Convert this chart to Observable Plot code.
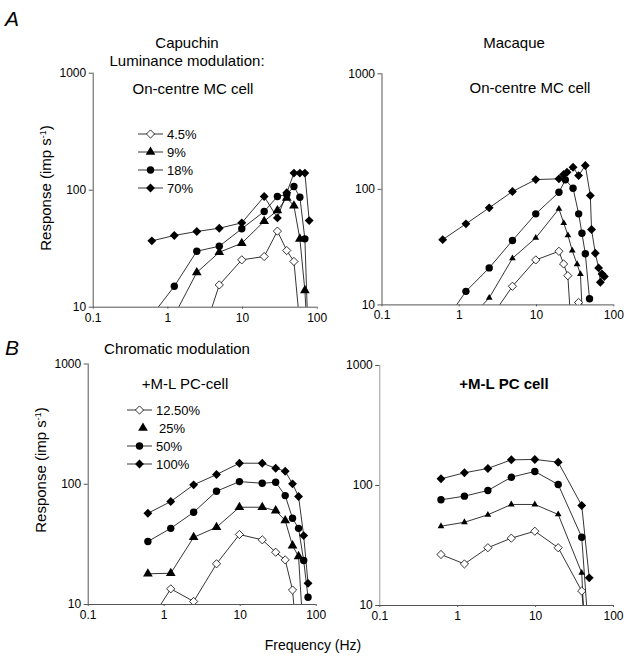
<!DOCTYPE html>
<html><head><meta charset="utf-8">
<script src="https://cdn.jsdelivr.net/npm/d3@7"></script>
<script src="https://cdn.jsdelivr.net/npm/@observablehq/plot@0.6"></script>
<style>
body{margin:0;background:#fff;}
#fig{position:relative;width:626px;height:660px;font-family:"Liberation Sans",Arial,sans-serif;color:#000;overflow:hidden;}
.t{position:absolute;white-space:nowrap;line-height:1;}
.c{transform:translate(-50%,-50%);}
.panel{position:absolute;left:0;top:0;}
.leg{position:absolute;display:flex;align-items:center;font-size:13px;line-height:1;}
</style></head><body><div id="fig"></div><script>
// ---------- tick labels ----------
const xTicks = [0.1, 1, 10, 100];
const yTicks = [10, 100, 1000];

// ---------- A: Capuchin, luminance modulation (on-centre MC cell) ----------
const capLum45F = [2.44, 4.88, 9.77, 19.5, 29.3, 39.1, 48.8, 58.6];
const capLum45R = [4, 15.5, 25.4, 27.1, 44.7, 30.5, 24.6, 7];
const capLum9F  = [1.22, 2.44, 4.88, 9.77, 19.5, 29.3, 39.1, 48.8, 58.6, 68.4, 78.1];
const capLum9R  = [8.5, 19.8, 29.5, 35.2, 54.3, 67, 86, 73.6, 38.4, 13.9, 3];
const capLum18F = [0.61, 1.22, 2.44, 4.88, 9.77, 19.5, 29.3, 39.1, 48.8, 58.6, 68.4, 78.1];
const capLum18R = [8.5, 15.1, 30.1, 33.2, 46.8, 65.8, 88.3, 92, 107.6, 87, 38.4, 3];
const capLum70F = [0.61, 1.22, 2.44, 4.88, 9.77, 19.5, 29.3, 39.1, 48.8, 58.6, 68.4, 78.1];
const capLum70R = [36.9, 41, 44.4, 47.3, 52.6, 88.3, 58, 95, 140, 140, 140, 55];

// ---------- A: Macaque, luminance modulation (on-centre MC cell) ----------
const macLum45F = [2.44, 4.88, 9.77, 19.5, 22.4, 25.4, 29.3, 35, 40];
const macLum45R = [7.4, 14.5, 24.5, 29.1, 22.6, 17.9, 4, 10.5, 4];
const macLum9F  = [1.22, 2.44, 4.88, 9.77, 19.5, 22.5, 25.5, 29, 33.5, 37, 42];
const macLum9R  = [7, 11.5, 25.3, 38, 67.8, 51, 40, 29.5, 22.5, 18.5, 3];
const macLum18F = [0.61, 1.22, 2.44, 4.88, 9.77, 19.5, 23.6, 29.7, 35.1, 38.7, 42.8, 48.5];
const macLum18R = [6.7, 13.1, 20.9, 36.1, 61.4, 94.4, 120.8, 102.3, 61.4, 41.7, 27.7, 11.3];
const macLum70F = [0.61, 1.22, 2.44, 4.88, 9.77, 19.5, 22.4, 24.8, 29.7, 35, 42.8, 49.7, 51.5, 57.6, 63.6, 67, 70.4, 75.4];
const macLum70R = [36.7, 50.3, 69.2, 95.8, 121.5, 123.3, 134.3, 140.6, 155.3, 131.6, 160.7, 88.3, 44.9, 28, 20.9, 15.7, 18.5, 17.6];

// ---------- B: Capuchin, chromatic modulation (+M-L PC cell) ----------
const capChr125F = [0.61, 1.22, 2.44, 4.88, 9.77, 19.5, 29.3, 39.1, 48.8, 58.6];
const capChr125R = [6.8, 13.5, 10.6, 21.8, 38.2, 34.5, 27.2, 23.5, 13.2, 3.5];
const capChr25F  = [0.61, 1.22, 2.44, 4.88, 9.77, 19.5, 29.3, 39.1, 48.8, 58.6, 68.4];
const capChr25R  = [18, 18.2, 36.2, 43.9, 64.4, 64.4, 60.4, 49.9, 30.9, 25.1, 5];
const capChr50F  = [0.61, 1.22, 2.44, 4.88, 9.77, 19.5, 29.3, 39.1, 48.8, 58.6, 68.4, 78.1];
const capChr50R  = [33.4, 43, 58.5, 87.5, 105.2, 101.9, 103.9, 80.5, 52.1, 43, 23.2, 11.5];
const capChr100F = [0.61, 1.22, 2.44, 4.88, 9.77, 19.5, 29.3, 39.1, 48.8, 58.6, 68.4, 78.1];
const capChr100R = [57.4, 71.8, 98.9, 120.4, 149.6, 149.6, 135.9, 128.3, 100.8, 79, 37.4, 15];

// ---------- B: Macaque, chromatic modulation (+M-L PC cell) ----------
const macChrF     = [0.61, 1.22, 2.44, 4.88, 9.77, 19.5, 39.1, 48.8];
const macChr125R  = [26.6, 22.2, 30.3, 36.4, 41.6, 30.3, 13.2, 3];
const macChr25R   = [45.8, 49.4, 57, 69.5, 69.5, 57.4, 18.7, 1];
const macChr50R   = [76, 81.5, 90.9, 117.3, 130.9, 101.9, 37.1, 5];
const macChr100R  = [113.7, 127.6, 138.7, 163.7, 164.8, 156.4, 68.1, 17];

const lumLabels = ["4.5%", "9%", "18%", "70%"];
const chrLabels = ["12.50%", "25%", "50%", "100%"];

// ---------- drawing ----------
const FONT = '"Liberation Sans", Arial, sans-serif';
const W = 626, H = 660;
const fig = document.getElementById("fig");

const STY = {
  open:  {symbol: "diamond2", fill: "white", stroke: "black", r: 3.7},
  tri:   {symbol: "triangle", fill: "black", stroke: "none", r: 3.6},
  triS:  {symbol: "triangle", fill: "black", stroke: "none", r: 2.5},
  dot:   {symbol: "circle",   fill: "black", stroke: "none", r: 3.7},
  dia:   {symbol: "diamond2", fill: "black", stroke: "none", r: 4.0}
};

function rows(F, R) { return F.map((f, i) => ({f, r: R[i]})); }

function panel(box, series, axisColor) {
  const marks = [
    Plot.ruleY([yTicks[0]], {stroke: "#555", strokeWidth: 1}),
    Plot.ruleX([xTicks[0]], {stroke: axisColor || "#555", strokeWidth: 1}),
    Plot.axisY({ticks: yTicks, tickFormat: d => String(d), tickSize: 4, tickPadding: 3, label: null, stroke: "#555", fill: "#000"}),
    Plot.axisX({ticks: xTicks, tickFormat: d => String(d), tickSize: 2, tickPadding: 4, label: null, stroke: "#555", fill: "#000"})
  ];
  for (const s of series) {
    const d = rows(s.F, s.R);
    marks.push(Plot.line(d, {x: "f", y: "r", stroke: "black", strokeWidth: 0.8, clip: true}));
  }
  for (const s of series) {
    const d = rows(s.F, s.R);
    const st = STY[s.st];
    marks.push(Plot.dot(d, {x: "f", y: "r", symbol: st.symbol, fill: st.fill, stroke: st.stroke, strokeWidth: 0.8, r: st.r, clip: true}));
  }
  const svg = Plot.plot({
    width: W, height: H,
    marginLeft: box[0], marginRight: W - box[1], marginTop: box[2], marginBottom: H - box[3],
    x: {type: "log", domain: [xTicks[0], xTicks[xTicks.length - 1]]},
    y: {type: "log", domain: [yTicks[0], yTicks[yTicks.length - 1]]},
    style: {fontFamily: FONT, fontSize: "12px", background: "none", overflow: "visible", maxWidth: "none"},
    marks
  });
  svg.classList.add("panel");
  fig.appendChild(svg);
}

panel([92.7, 316.7, 72.7, 306.7], [
  {F: capLum45F, R: capLum45R, st: "open"},
  {F: capLum9F,  R: capLum9R,  st: "tri"},
  {F: capLum18F, R: capLum18R, st: "dot"},
  {F: capLum70F, R: capLum70R, st: "dia"}
]);
panel([381.5, 613.3, 73.3, 304.4], [
  {F: macLum45F, R: macLum45R, st: "open"},
  {F: macLum9F,  R: macLum9R,  st: "triS"},
  {F: macLum18F, R: macLum18R, st: "dot"},
  {F: macLum70F, R: macLum70R, st: "dia"}
]);
panel([87.7, 315.7, 363.5, 604], [
  {F: capChr125F, R: capChr125R, st: "open"},
  {F: capChr25F,  R: capChr25R,  st: "tri"},
  {F: capChr50F,  R: capChr50R,  st: "dot"},
  {F: capChr100F, R: capChr100R, st: "dia"}
]);
panel([379.3, 613, 365, 605], [
  {F: macChrF, R: macChr125R, st: "open"},
  {F: macChrF, R: macChr25R,  st: "triS"},
  {F: macChrF, R: macChr50R,  st: "dot"},
  {F: macChrF, R: macChr100R, st: "dia"}
], "#999");

// ---------- text ----------
function text(str, x, y, opts = {}) {
  const el = document.createElement("div");
  el.className = "t" + (opts.left ? "" : " c");
  el.innerHTML = str;
  el.style.left = x + "px"; el.style.top = y + "px";
  el.style.fontSize = (opts.size || 15) + "px";
  if (opts.italic) el.style.fontStyle = "italic";
  if (opts.bold) el.style.fontWeight = opts.bold;
  if (opts.rotate) el.style.transform = "translate(-50%,-50%) rotate(-90deg)";
  fig.appendChild(el);
}
text("A", 5, 8, {left: true, italic: true, size: 21});
text("B", 5, 337, {left: true, italic: true, size: 21});
text("Capuchin", 187, 42);
text("Luminance modulation:", 187, 60);
text("On-centre MC cell", 193, 88);
text("Macaque", 514, 42);
text("On-centre MC cell", 530, 87);
text("Chromatic modulation", 177, 348);
text("+M-L PC-cell", 185, 383);
text("+M-L PC cell", 504, 383, {bold: 600});
text("Response (imp s<sup style='font-size:9px;vertical-align:5px'>-1</sup>)", 45, 188, {rotate: true});
text("Response (imp s<sup style='font-size:9px;vertical-align:5px'>-1</sup>)", 40, 470, {rotate: true});
text("Frequency (Hz)", 313, 645, {size: 14});

// ---------- legends ----------
function legendItem(label, st, x, y, withLine) {
  const s = STY[st];
  const el = document.createElement("div");
  el.className = "leg";
  el.style.left = x + "px"; el.style.top = (y - 7) + "px";
  const sv = d3.create("svg").attr("width", 28).attr("height", 14).style("overflow", "visible");
  if (withLine) sv.append("line").attr("x1", 1).attr("x2", 26).attr("y1", 7).attr("y2", 7).attr("stroke", "black").attr("stroke-width", 0.8);
  const sym = s.symbol === "circle" ? d3.symbolCircle : s.symbol === "triangle" ? d3.symbolTriangle : d3.symbolDiamond2;
  sv.append("path").attr("d", d3.symbol(sym, Math.PI * s.r * s.r)()).attr("transform", `translate(${withLine ? 13.5 : 17},7)`)
    .attr("fill", s.fill).attr("stroke", s.stroke).attr("stroke-width", 0.8);
  el.appendChild(sv.node());
  const tx = document.createElement("span");
  tx.textContent = label;
  tx.style.marginLeft = (withLine ? 2 : 5) + "px";
  el.appendChild(tx);
  fig.appendChild(el);
}
const lumSt = ["open", "tri", "dot", "dia"];
lumLabels.forEach((l, i) => legendItem(l, lumSt[i], 137, 134 + i * 18, true));
chrLabels.forEach((l, i) => legendItem(l, lumSt[i], 126, 410 + i * 18, i !== 1));
</script></body></html>
